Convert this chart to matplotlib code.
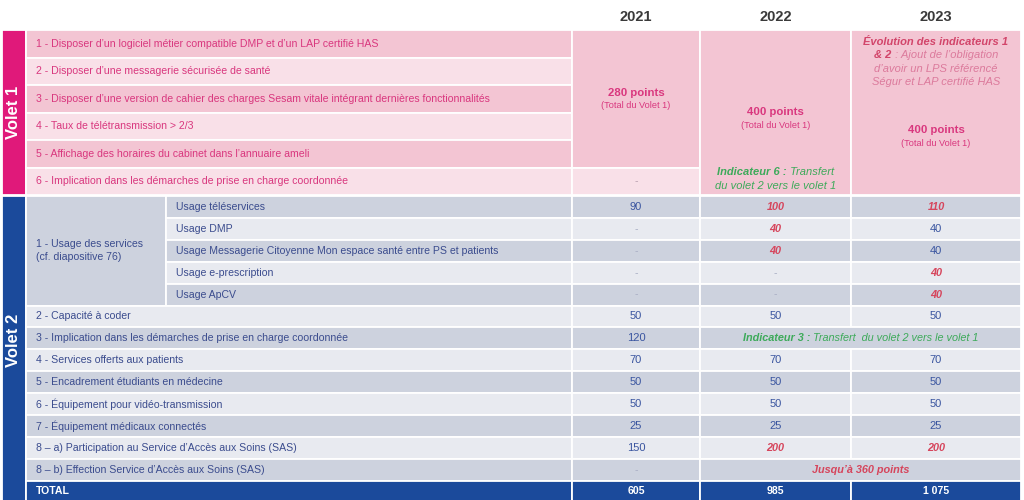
import matplotlib
matplotlib.use("Agg")
import matplotlib.pyplot as plt
from matplotlib.patches import Rectangle

plt.rcParams['font.family'] = ['Liberation Sans', 'DejaVu Sans']

# ---------------- data ----------------
years = ['2021', '2022', '2023']

volet1_labels = [
    "1 - Disposer d\u2019un logiciel métier compatible DMP et d\u2019un LAP certifié HAS",
    "2 - Disposer d\u2019une messagerie sécurisée de santé",
    "3 - Disposer d\u2019une version de cahier des charges Sesam vitale intégrant dernières fonctionnalités",
    "4 - Taux de télétransmission > 2/3",
    "5 - Affichage des horaires du cabinet dans l\u2019annuaire ameli",
    "6 - Implication dans les démarches de prise en charge coordonnée",
]
volet1_points = ['280 points', '400 points', '400 points']
volet1_total_note = '(Total du Volet 1)'
volet1_2021_row6 = '-'
volet1_2022_note = [('Indicateur 6 :', ' Transfert'), ('', 'du volet 2 vers le volet 1')]
volet1_2023_note = [('Évolution des indicateurs 1', ''), ('& 2', ' : Ajout de l\u2019obligation'),
                    ('', 'd\u2019avoir un LPS référencé'), ('', 'Ségur et LAP certifié HAS')]

usage_group_label = ['1 - Usage des services', '(cf. diapositive 76)']
usage_labels = ['Usage téléservices', 'Usage DMP',
                'Usage Messagerie Citoyenne Mon espace santé entre PS et patients',
                'Usage e-prescription', 'Usage ApCV']
usage_2021 = ['90', '-', '-', '-', '-']
usage_2022 = ['100', '40', '40', '-', '-']
usage_2023 = ['110', '40', '40', '40', '40']
usage_new_2022 = [True, True, True, False, False]
usage_new_2023 = [True, False, False, True, True]

volet2_labels = [
    '2 - Capacité à coder',
    '3 - Implication dans les démarches de prise en charge coordonnée',
    '4 - Services offerts aux patients',
    '5 - Encadrement étudiants en médecine',
    '6 - Équipement pour vidéo-transmission',
    '7 - Équipement médicaux connectés',
    '8 \u2013 a) Participation au Service d\u2019Accès aux Soins (SAS)',
    '8 \u2013 b) Effection Service d\u2019Accès aux Soins (SAS)',
]
volet2_2021 = ['50', '120', '70', '50', '50', '25', '150', '-']
volet2_2022 = ['50', None, '70', '50', '50', '25', '200', None]
volet2_2023 = ['50', None, '70', '50', '50', '25', '200', None]
volet2_new = [False, False, False, False, False, False, True, False]
volet2_merged = {1: ('Indicateur 3 :', ' Transfert  du volet 2 vers le volet 1', 'green'),
                 7: ('Jusqu\u2019à 360 points', '', 'red')}

total_label = 'TOTAL'
totals = ['605', '985', '1 075']

# ---------------- style ----------------
MAGENTA = '#E0197A'
BLUE = '#1B4A9B'
PINK_D = '#F3C5D3'
PINK_L = '#F9E0E8'
GRAY_D = '#CDD2DE'
GRAY_L = '#E8EAF0'
PINK_TXT = '#D9377E'
BLUE_TXT = '#3B4C8E'
VAL_TXT = '#3A55A0'
RED_TXT = '#D6455C'
GREEN_TXT = '#3DAA5A'
DASH_TXT = '#B9A0B0'

fig = plt.figure(figsize=(10.24, 5.0), dpi=100)
ax = fig.add_axes([0, 0, 1, 1])
ax.set_xlim(0, 1024)
ax.set_ylim(500, 0)
ax.axis('off')

# columns
xb0, xb1 = 2, 26
xl0, xl1 = 26, 572
xsub = 166
cols = [(572, 700), (700, 851), (851, 1021)]
col_c = [(a + b) / 2 for a, b in cols]

y_head = 30
h1 = 27.5
y2 = 196
h2 = 21.9

FS = 7.6


def cell(x0, x1, y0, y1, color):
    ax.add_patch(Rectangle((x0, y0), x1 - x0, y1 - y0, facecolor=color,
                           edgecolor='white', linewidth=1.3))


renderer = fig.canvas.get_renderer()


def rich(xc, y, parts, size=FS):
    ts = []
    for txt, kw in parts:
        if txt == '':
            continue
        ts.append(ax.text(0, y, txt, fontsize=size, ha='left', va='center', **kw))
    ws = [t.get_window_extent(renderer).width for t in ts]
    x = xc - sum(ws) / 2
    for t, w in zip(ts, ws):
        t.set_x(x)
        x += w


# header
for c, yr in zip(col_c, years):
    ax.text(c, 17, yr, fontsize=10.5, fontweight='bold', color='#3A3A3A',
            ha='center', va='center')

# ---------------- Volet 1 ----------------
v1_end = y_head + h1 * len(volet1_labels)
cell(xb0, xb1, y_head, v1_end, MAGENTA)
ax.text((xb0 + xb1) / 2, (y_head + v1_end) / 2, 'Volet 1', rotation=90, color='white',
        fontsize=12, fontweight='bold', ha='center', va='center')
for i, lab in enumerate(volet1_labels):
    y0 = y_head + i * h1
    cell(xl0, xl1, y0, y0 + h1, PINK_D if i % 2 == 0 else PINK_L)
    ax.text(xl0 + 10, y0 + h1 / 2, lab, fontsize=FS, color=PINK_TXT, ha='left', va='center')

# 2021 merged
cell(cols[0][0], cols[0][1], y_head, y_head + 5 * h1, PINK_D)
cell(cols[0][0], cols[0][1], y_head + 5 * h1, v1_end, PINK_L)
ax.text(col_c[0], 93, volet1_points[0], fontsize=8.2, fontweight='bold', color=PINK_TXT,
        ha='center', va='center')
ax.text(col_c[0], 106, volet1_total_note, fontsize=6.6, color=PINK_TXT, ha='center', va='center')
ax.text(col_c[0], y_head + 5.5 * h1, volet1_2021_row6, fontsize=FS, color=DASH_TXT,
        ha='center', va='center')
# 2022 merged
cell(cols[1][0], cols[1][1], y_head, v1_end, PINK_D)
ax.text(col_c[1], 112, volet1_points[1], fontsize=8.2, fontweight='bold', color=PINK_TXT,
        ha='center', va='center')
ax.text(col_c[1], 125, volet1_total_note, fontsize=6.6, color=PINK_TXT, ha='center', va='center')
for k, (b, n) in enumerate(volet1_2022_note):
    rich(col_c[1], 172 + 14 * k, [(b, dict(color=GREEN_TXT, fontweight='bold', style='italic')),
                                   (n, dict(color=GREEN_TXT, style='italic'))], size=8.0)
# 2023 merged
cell(cols[2][0], cols[2][1], y_head, v1_end, PINK_D)
for k, (b, n) in enumerate(volet1_2023_note):
    rich(col_c[2], 42 + 13.4 * k, [(b, dict(color='#D2456A', fontweight='bold', style='italic')),
                                    (n, dict(color='#DC7A9C', style='italic'))], size=8.0)
ax.text(col_c[2], 130, volet1_points[2], fontsize=8.2, fontweight='bold', color=PINK_TXT,
        ha='center', va='center')
ax.text(col_c[2], 143, volet1_total_note, fontsize=6.6, color=PINK_TXT, ha='center', va='center')

# ---------------- Volet 2 ----------------
n2 = len(usage_labels) + len(volet2_labels) + 1
v2_end = y2 + h2 * n2
cell(xb0, xb1, y2, 503, BLUE)
ax.text((xb0 + xb1) / 2, 340, 'Volet 2', rotation=90, color='white',
        fontsize=12, fontweight='bold', ha='center', va='center')


def val_text(x, y, v, new):
    if v == '-':
        ax.text(x, y, v, fontsize=FS, color='#A8AEC4', ha='center', va='center')
    elif new:
        ax.text(x, y, v, fontsize=FS + 0.2, color=RED_TXT, fontweight='bold', style='italic',
                ha='center', va='center')
    else:
        ax.text(x, y, v, fontsize=FS + 0.4, color=VAL_TXT, ha='center', va='center')


# usage group
ug_end = y2 + h2 * len(usage_labels)
cell(xl0, xsub, y2, ug_end, GRAY_D)
ax.text(xl0 + 10, (y2 + ug_end) / 2, '\n'.join(usage_group_label), fontsize=FS,
        color=BLUE_TXT, ha='left', va='center', linespacing=1.35)
for i, lab in enumerate(usage_labels):
    y0 = y2 + i * h2
    col = GRAY_D if i % 2 == 0 else GRAY_L
    cell(xsub, xl1, y0, y0 + h2, col)
    ax.text(xsub + 10, y0 + h2 / 2, lab, fontsize=FS, color=BLUE_TXT, ha='left', va='center')
    for j, (vals, flags) in enumerate([(usage_2021, [False] * 5), (usage_2022, usage_new_2022),
                                       (usage_2023, usage_new_2023)]):
        cell(cols[j][0], cols[j][1], y0, y0 + h2, col)
        val_text(col_c[j], y0 + h2 / 2, vals[i], flags[i])

for k, lab in enumerate(volet2_labels):
    i = len(usage_labels) + k
    y0 = y2 + i * h2
    col = GRAY_D if i % 2 == 0 else GRAY_L
    cell(xl0, xl1, y0, y0 + h2, col)
    ax.text(xl0 + 10, y0 + h2 / 2, lab, fontsize=FS, color=BLUE_TXT, ha='left', va='center')
    cell(cols[0][0], cols[0][1], y0, y0 + h2, col)
    val_text(col_c[0], y0 + h2 / 2, volet2_2021[k], False)
    if k in volet2_merged:
        cell(cols[1][0], cols[2][1], y0, y0 + h2, col)
        b, n, kind = volet2_merged[k]
        c = GREEN_TXT if kind == 'green' else RED_TXT
        rich((cols[1][0] + cols[2][1]) / 2, y0 + h2 / 2,
             [(b, dict(color=c, fontweight='bold', style='italic')),
              (n, dict(color=c, style='italic'))], size=FS + 0.2)
    else:
        for j, vals in ((1, volet2_2022), (2, volet2_2023)):
            cell(cols[j][0], cols[j][1], y0, y0 + h2, col)
            val_text(col_c[j], y0 + h2 / 2, vals[k], volet2_new[k])

# total
y0 = y2 + (n2 - 1) * h2
cell(xl0, xl1, y0, 503, BLUE)
ax.text(xl0 + 10, 491, total_label, fontsize=FS, fontweight='bold', color='white',
        ha='left', va='center')
for j in range(3):
    cell(cols[j][0], cols[j][1], y0, 503, BLUE)
    ax.text(col_c[j], 491, totals[j], fontsize=FS, fontweight='bold', color='white',
            ha='center', va='center')

fig.savefig('out.png', dpi=100, facecolor='white')
